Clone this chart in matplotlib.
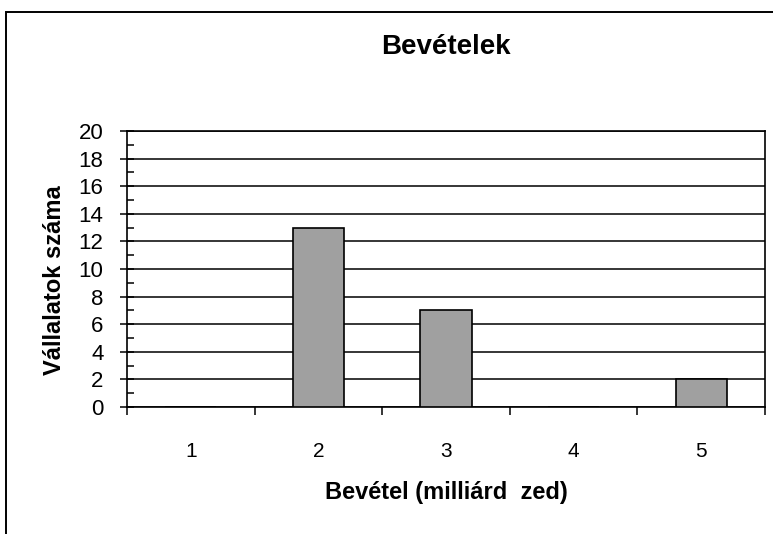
import matplotlib
matplotlib.use("Agg")
import matplotlib.pyplot as plt
from matplotlib.patches import Rectangle
import numpy as np

plt.rcParams['font.family'] = ['Liberation Sans', 'DejaVu Sans']

# data
categories = ['1', '2', '3', '4', '5']
counts = [0, 13, 7, 0, 2]
y_ticks = list(range(0, 21, 2))

fig = plt.figure(figsize=(7.73, 5.34), dpi=100)

# outer chart border (right/bottom edges run off the image)
fig.patches.append(Rectangle((6.5 / 773, -0.05), 1.2, 1 - 11.5 / 534 + 0.05,
                             transform=fig.transFigure, fill=False,
                             edgecolor='black', linewidth=1.4))

ax = fig.add_axes([127 / 773, 1 - 407 / 534, (765 - 127) / 773, (407 - 131) / 534])

x = np.arange(1, len(categories) + 1)
ax.bar(x, counts, width=0.4, color='#a0a0a0', edgecolor='black', linewidth=1.2, zorder=3)

ax.set_xlim(0.5, len(categories) + 0.5)
ax.set_ylim(0, 20)

# horizontal gridlines
ax.set_yticks(y_ticks)
ax.set_yticks(range(1, 20, 2), minor=True)
ax.grid(axis='y', which='major', color='black', linewidth=1.1, zorder=1)

# category labels at centres, tick marks at boundaries
ax.set_xticks(x)
ax.set_xticklabels(categories)
ax.set_xticks(np.arange(0.5, len(categories) + 1, 1), minor=True)
ax.tick_params(axis='x', which='major', length=0, pad=25, labelsize=15)
ax.tick_params(axis='x', which='minor', direction='out', length=6, width=1.1)
ax.tick_params(axis='y', which='major', direction='inout', length=10, width=1.1,
               pad=12, labelsize=16)
ax.tick_params(axis='y', which='minor', direction='in', length=5, width=1.1)

for s in ax.spines.values():
    s.set_linewidth(1.2)

fig.text(0.5 * (127 + 765) / 773, 1 - 47 / 534, 'Bevételek', ha='center', va='center',
         fontsize=20, fontweight='bold')
fig.text(0.5 * (127 + 765) / 773, 1 - 493 / 534, 'Bevétel (milliárd  zed)', ha='center',
         va='center', fontsize=17, fontweight='bold')
fig.text(55 / 773, 1 - 280 / 534, 'Vállalatok száma', ha='center', va='center',
         rotation=90, fontsize=17, fontweight='bold')

fig.savefig('out.png', dpi=100)
